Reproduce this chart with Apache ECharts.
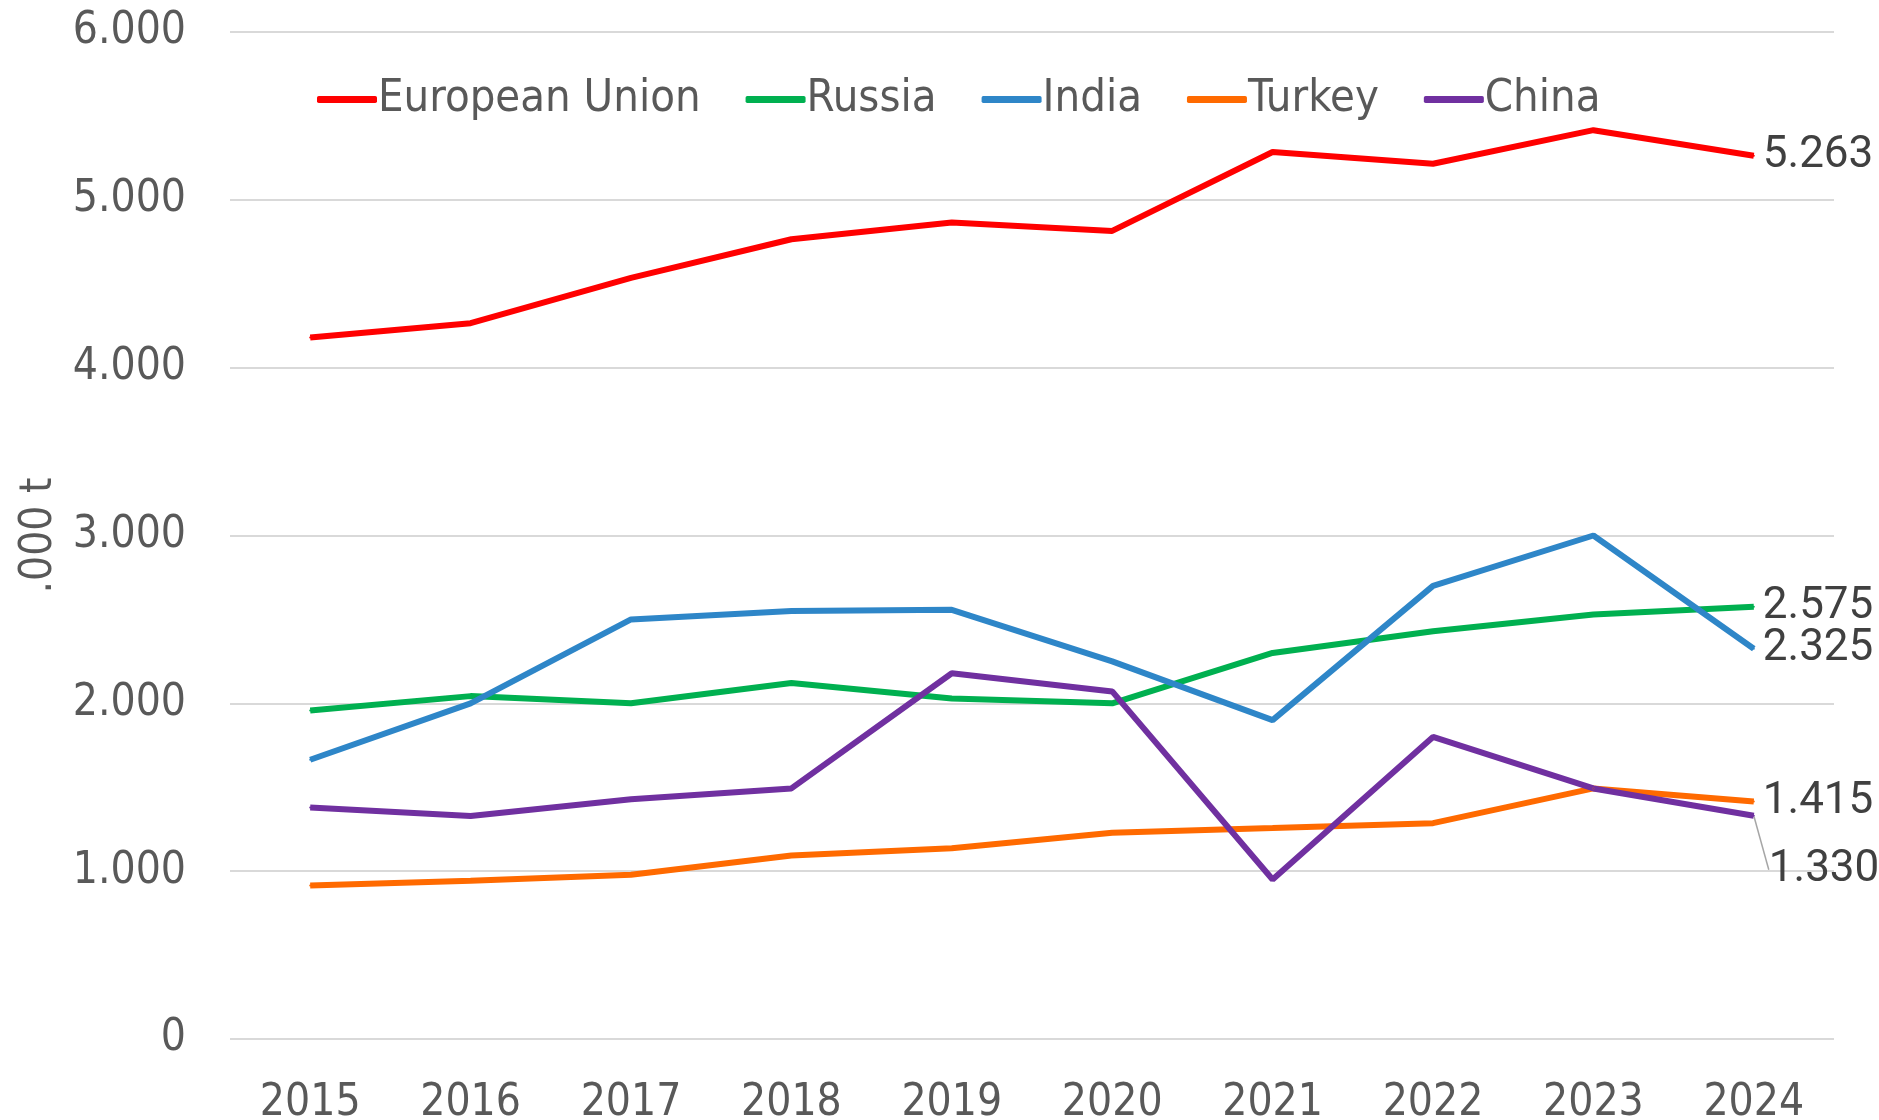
<!DOCTYPE html>
<html>
<head>
<meta charset="utf-8">
<script src="https://cdn.jsdelivr.net/npm/echarts@6/dist/echarts.min.js"></script>
<style>
html, body { margin: 0; padding: 0; background: #fff; }
#line-charts { width: 1879px; height: 1120px; }
</style>
</head>
<body>
<div id="line-charts"></div>
<script>
// years on x axis
let years = ['2015', '2016', '2017', '2018', '2019', '2020', '2021', '2022', '2023', '2024']
// '000 t
let euData = [4180, 4265, 4535, 4765, 4865, 4815, 5285, 5215, 5415, 5263]
let russiaData = [1957, 2043, 2000, 2121, 2029, 2000, 2300, 2429, 2529, 2575]
let indiaData = [1664, 2000, 2500, 2550, 2557, 2250, 1900, 2700, 3000, 2325]
let turkeyData = [914, 943, 979, 1093, 1136, 1229, 1257, 1286, 1493, 1415]
let chinaData = [1379, 1329, 1429, 1493, 2179, 2071, 950, 1800, 1493, 1330]

const axisFont = '"Liberation Sans Narrow", "DejaVu Sans Condensed", sans-serif'

function fmt(v) {
    return String(v).replace(/\B(?=(\d{3})+(?!\d))/g, '.')
}

// last point gets its value label
function withEndLabel(arr) {
    return arr.map((v, i) => {
        if (i !== arr.length - 1) return v
        return {
            value: v,
            label: {
                show: true,
                position: 'right',
                distance: 8,
                formatter: p => fmt(p.value),
                color: '#404040',
                fontFamily: 'Roboto, sans-serif',
                fontSize: 44
            }
        }
    })
}

function mkSeries(name, color, arr, extra) {
    return Object.assign({
        name: name,
        type: 'line',
        symbol: 'circle',
        symbolSize: 2,
        lineStyle: { color: color, width: 6 },
        itemStyle: { color: color },
        data: withEndLabel(arr)
    }, extra || {})
}

let charts = echarts.init(document.getElementById('line-charts'))
let config = {
    animation: false,
    backgroundColor: '#fff',
    color: ['#ff0000', '#00b050', '#2e86c8', '#ff6a00', '#7030a0'],
    legend: {
        left: 312,
        top: 72,
        icon: 'roundRect',
        itemWidth: 60,
        itemHeight: 7,
        itemGap: 45,
        textStyle: { color: '#595959', fontSize: 45, fontFamily: axisFont, padding: [0, 0, 0, -4] },
        data: ['European Union', 'Russia', 'India', 'Turkey', 'China']
    },
    grid: { left: 230, right: 45, top: 32, bottom: 81, outerBoundsMode: 'none', containLabel: false },
    xAxis: {
        type: 'category',
        boundaryGap: true,
        data: years,
        axisLine: { show: false },
        axisTick: { show: false },
        axisLabel: { color: '#595959', fontSize: 44, fontFamily: axisFont, margin: 43 }
    },
    yAxis: {
        type: 'value',
        min: 0,
        max: 6000,
        interval: 1000,
        name: '.000 t',
        nameLocation: 'middle',
        nameGap: 168,
        nameTextStyle: { color: '#595959', fontSize: 44, fontFamily: axisFont },
        axisLine: { show: false },
        axisTick: { show: false },
        splitLine: { lineStyle: { color: '#d9d9d9', width: 2 } },
        axisLabel: { color: '#595959', fontSize: 44, fontFamily: axisFont, margin: 44, formatter: v => fmt(v) }
    },
    series: [
        mkSeries('European Union', '#ff0000', euData),
        mkSeries('Russia', '#00b050', russiaData),
        mkSeries('India', '#2e86c8', indiaData),
        mkSeries('Turkey', '#ff6a00', turkeyData),
        mkSeries('China', '#7030a0', chinaData, {
            labelLayout: { dx: 6, dy: 54 },
            labelLine: { show: true, lineStyle: { color: '#a6a6a6', width: 1.5 } }
        })
    ]
}
config && charts.setOption(config)
window.addEventListener('resize', () => charts.resize())
</script>
</body>
</html>
